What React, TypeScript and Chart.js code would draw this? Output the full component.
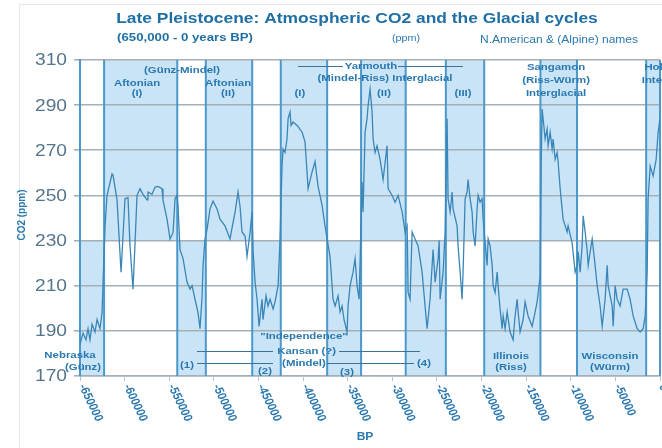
import React, { useEffect, useRef } from 'react';
import { Chart, registerables } from 'chart.js';

Chart.register(...registerables);

const FONT = "'Liberation Sans', Arial, Helvetica, sans-serif";

// ---- data (years BP as negative numbers, CO2 in ppm) ----
const years = [
  -650000, -646600, -643300, -641000, -638800, -636500, -633200, -630900, -627600, -625300,
  -622000, -619700, -614100, -613000, -608500, -604000, -601800, -599600, -596200, -594000,
  -590600, -588300, -586100, -582700, -579400, -574900, -573800, -569300, -565900, -562600,
  -558100, -557000, -552500, -549100, -545700, -543500, -541300, -540100, -537900, -534500,
  -530100, -526700, -524400, -521100, -517700, -515500, -513200, -512100, -509900, -507600,
  -504300, -500900, -496400, -493100, -487500, -481900, -476200, -472900, -470600, -468400,
  -465000, -462800, -459400, -457200, -456100, -453800, -451600, -449300, -446000, -444900,
  -441500, -439300, -437000, -433600, -431400, -428000, -425800, -423600, -422400, -420200,
  -418000, -416800, -414600, -413500, -411200, -406700, -401100, -397800, -394400, -389900,
  -386600, -383200, -378700, -375400, -373100, -369800, -366400, -364100, -360800, -358500,
  -356300, -354100, -350700, -349600, -347300, -344000, -341700, -339500, -337200, -335000,
  -333900, -332800, -330500, -328300, -327200, -324900, -322700, -321500, -319300, -317100,
  -313700, -310300, -305900, -304700, -300200, -296900, -293500, -289000, -285700, -283400,
  -282300, -280100, -277800, -274500, -271100, -266600, -263300, -261000, -257700, -254300,
  -252000, -248700, -247500, -246400, -243100, -240800, -238600, -237500, -235200, -233000,
  -231900, -227400, -226300, -224000, -221800, -220700, -218400, -216200, -215100, -212800,
  -210600, -209400, -207200, -205000, -203800, -201600, -199400, -198200, -196000, -193800,
  -192600, -190400, -188100, -187000, -184800, -182500, -181400, -179200, -176900, -175800,
  -173600, -171300, -168000, -164600, -162400, -160100, -159000, -156800, -153400, -151200,
  -147800, -143300, -139900, -137700, -134300, -133200, -132100, -131000, -128700, -126500,
  -125400, -123100, -120900, -119800, -117500, -115300, -114200, -111900, -108600, -104100,
  -103000, -98500, -95100, -92900, -91700, -89500, -87300, -86100, -83900, -81700,
  -80500, -78300, -76000, -72700, -70400, -67100, -64800, -61500, -59200, -58100,
  -53600, -52500, -50300, -48000, -44700, -41300, -36800, -33500, -30100, -25600,
  -22200, -18900, -16600, -14400, -13300, -11000, -7700, -4300, -2100, 0,
];

const co2 = [
  184, 189, 186, 191, 186, 193, 189.5, 195, 191, 198,
  236, 250, 259.5, 259, 248, 216, 232, 248.5, 249, 228,
  208.5, 229, 250, 253, 250.5, 248, 251.5, 250.5, 253.7, 254,
  253, 248, 239.5, 230.7, 233.6, 248.5, 250, 245, 226, 222,
  211.6, 208.5, 210, 204, 198, 191, 205, 219, 230.7, 235,
  244, 247.5, 244, 239.5, 236.5, 230.7, 242.7, 251.5, 245, 233.8,
  232, 223, 233.8, 242.6, 226, 211.6, 204, 192, 204, 195,
  205.5, 201, 204, 199.7, 202.8, 210, 230.7, 263, 270.6, 269,
  275, 284, 287, 281, 282.5, 281, 278, 273.7, 253, 260.4,
  265, 254, 245.6, 236.5, 230.7, 223, 204, 201, 205.5, 198.4,
  201, 195, 189.5, 201, 210, 216, 222, 210, 204, 238,
  256, 242.7, 278, 284, 289.6, 297, 287, 275, 269, 272,
  266, 257, 272, 253, 250, 247, 250, 242.7, 233.8, 236.5,
  207, 204, 233.8, 230.7, 227.6, 216, 201, 191, 204, 226,
  211.6, 222, 230, 204, 216, 233.8, 284, 248.5, 242.7, 251.5,
  244, 236.5, 227.6, 216, 204, 216, 248.5, 251.5, 257, 248.5,
  242.7, 233.8, 227.6, 244, 250, 247, 248.5, 239.5, 229, 219,
  230.7, 227.6, 219, 210, 207, 216, 210, 199.7, 191, 196.6,
  191, 198.4, 189.5, 186, 196.6, 204, 198.4, 189.5, 195, 202.8,
  196.6, 192, 198.4, 202.8, 214.4, 263, 288.3, 284, 275, 279.4,
  272, 278, 270.6, 275, 266, 269, 265, 253, 239.5, 233.8,
  236.5, 229, 216, 219, 225, 216, 227.6, 241, 233.8, 226,
  219, 225, 230.7, 219, 210, 201, 192, 204, 219, 210,
  201, 192, 210, 204, 201, 208.5, 208.5, 204, 196.6, 191,
  189.5, 191, 196.6, 216, 248.5, 263, 258.6, 266, 278, 284,
];

// glacial / interglacial stages (boundaries in years BP)
const stageBounds = [
  -650000, -623000, -541000, -509000, -457000, -425000, -373000, -335000,
  -285000, -240000, -197000, -134000, -93000, -15500, 0,
];
const stageKinds = [
  'glacial', 'interglacial', 'glacial', 'interglacial', 'glacial', 'interglacial', 'glacial',
  'interglacial', 'glacial', 'interglacial', 'glacial', 'interglacial', 'glacial', 'interglacial',
];
const glacialBand = [170, 230];
const interglacialBand = [230, 310];

const xMin = -650000;
const xMax = 0;
const xStep = 50000;
const yMin = 170;
const yMax = 310;
const yStep = 20;

const titleText = 'Late Pleistocene: Atmospheric CO2 and the Glacial cycles';
const subtitleText = '(650,000 - 0 years BP)';
const unitText = '(ppm)';
const namesText = 'N.American & (Alpine) names';
const yTitle = 'CO2 (ppm)';
const xTitle = 'BP';

// annotation labels anchored in data space: [text, year, ppm, align]
const stageLabels: [string, number, number, string][] = [
  ['(Günz-Mindel)', -535700, 305.6, 'center'],
  ['Aftonian', -586100, 299.8, 'center'],
  ['(I)', -586100, 295.0, 'center'],
  ['Aftonian', -484100, 299.8, 'center'],
  ['(II)', -484100, 295.0, 'center'],
  ['(I)', -403500, 295.0, 'center'],
  ['Yarmouth', -323900, 307.3, 'center'],
  ['(Mindel-Riss) Interglacial', -308200, 302.0, 'center'],
  ['(II)', -309300, 295.0, 'center'],
  ['(III)', -220800, 295.0, 'center'],
  ['Sangamon', -116500, 306.9, 'center'],
  ['(Riss-Würm)', -116500, 301.1, 'center'],
  ['Interglacial', -116500, 295.4, 'center'],
  ['Holocene', -17500, 306.9, 'left'],
  ['Interglacial', -20500, 301.1, 'left'],
  ['Nebraska', -661200, 179.3, 'center'],
  ['(Günz)', -646600, 173.6, 'center'],
  ['"Independence"', -399000, 187.7, 'center'],
  ['Kansan (?)', -396000, 181.1, 'center'],
  ['(Mindel)', -399000, 175.8, 'center'],
  ['(1)', -530100, 174.9, 'center'],
  ['(2)', -442700, 172.2, 'center'],
  ['(3)', -350800, 171.8, 'center'],
  ['(4)', -264500, 175.4, 'center'],
  ['Illinois', -167000, 178.9, 'center'],
  ['(Riss)', -167000, 173.6, 'center'],
  ['Wisconsin', -56000, 178.9, 'center'],
  ['(Würm)', -56000, 173.6, 'center'],
];

// connector lines: [yearFrom, yearTo, ppm]
const connectors: [number, number, number][] = [
  [-405700, -355300, 307.3],
  [-293600, -220800, 307.3],
  [-518900, -433700, 181.1],
  [-359700, -269000, 181.1],
  [-518900, -433700, 175.8],
  [-373200, -275700, 175.8],
];

const TEXT_BLUE = '#2a78b0';
const SX = 1.2; // horizontal stretch of the lettering in the reference

function drawText(ctx: CanvasRenderingContext2D, s: string, x: number, y: number, align: string) {
  ctx.save();
  ctx.translate(x, y);
  ctx.scale(SX, 1);
  ctx.textAlign = align as CanvasTextAlign;
  ctx.fillText(s, 0, 0);
  ctx.restore();
}

const decorPlugin = {
  id: 'decor',
  beforeDraw(chart: any) {
    const { ctx, scales } = chart;
    const x = scales.x;
    const y = scales.y;
    ctx.save();
    ctx.fillStyle = '#ffffff';
    ctx.fillRect(0, 0, chart.width, chart.height);
    ctx.strokeStyle = '#e4e8eb';
    ctx.lineWidth = 1;
    ctx.beginPath();
    ctx.moveTo(19.5, chart.height);
    ctx.lineTo(19.5, 4.5);
    ctx.lineTo(chart.width, 4.5);
    ctx.stroke();
    ctx.fillStyle = '#c9e4f6';
    for (let i = 0; i < stageKinds.length; i++) {
      const x0 = x.getPixelForValue(stageBounds[i]);
      const x1 = x.getPixelForValue(stageBounds[i + 1]);
      const band = stageKinds[i] === 'glacial' ? glacialBand : interglacialBand;
      const yt = y.getPixelForValue(band[1]);
      const yb = y.getPixelForValue(band[0]);
      ctx.fillRect(x0, yt, x1 - x0, yb - yt);
    }
    ctx.restore();
  },
  beforeDatasetsDraw(chart: any) {
    const { ctx, scales, chartArea } = chart;
    const x = scales.x;
    ctx.save();
    ctx.strokeStyle = '#4a98cc';
    ctx.lineWidth = 2;
    for (let i = 0; i < stageBounds.length; i++) {
      const px = x.getPixelForValue(stageBounds[i]);
      ctx.beginPath();
      ctx.moveTo(px, chartArea.top);
      ctx.lineTo(px, chartArea.bottom);
      ctx.stroke();
    }
    ctx.restore();
  },
  afterDraw(chart: any) {
    const { ctx, scales, chartArea } = chart;
    const x = scales.x;
    const y = scales.y;
    ctx.save();
    ctx.textBaseline = 'middle';

    // titles
    ctx.fillStyle = '#1f6fa5';
    ctx.font = `bold 14.5px ${FONT}`;
    drawText(ctx, titleText, 357, 19, 'center');
    ctx.font = `bold 11px ${FONT}`;
    drawText(ctx, subtitleText, 185, 38, 'center');
    ctx.fillStyle = TEXT_BLUE;
    ctx.font = `9px ${FONT}`;
    drawText(ctx, unitText, 406, 39, 'center');
    ctx.font = `10px ${FONT}`;
    drawText(ctx, namesText, 559, 40, 'center');

    // axis titles
    ctx.font = `bold 10px ${FONT}`;
    drawText(ctx, xTitle, 365, 437, 'center');
    ctx.save();
    ctx.translate(22, 215);
    ctx.rotate(-Math.PI / 2);
    ctx.textAlign = 'center';
    ctx.fillText(yTitle, 0, 0);
    ctx.restore();

    // y tick labels
    ctx.fillStyle = '#55758c';
    ctx.font = `16px ${FONT}`;
    for (const t of y.ticks) {
      drawText(ctx, String(t.value), chartArea.left - 13, y.getPixelForValue(t.value) + 1, 'right');
    }

    // rotated x tick labels
    ctx.fillStyle = TEXT_BLUE;
    ctx.font = `bold 10.5px ${FONT}`;
    for (const t of x.ticks) {
      const px = x.getPixelForValue(t.value);
      ctx.save();
      ctx.translate(px + 2, chartArea.bottom + 9);
      ctx.scale(SX, 1);
      ctx.rotate((68 * Math.PI) / 180);
      ctx.textAlign = 'left';
      ctx.fillText(String(t.value), 0, 0);
      ctx.restore();
    }

    // connector lines
    ctx.strokeStyle = '#3f7299';
    ctx.lineWidth = 1;
    for (const [a, b, v] of connectors) {
      const py = Math.round(y.getPixelForValue(v)) + 0.5;
      ctx.beginPath();
      ctx.moveTo(x.getPixelForValue(a), py);
      ctx.lineTo(x.getPixelForValue(b), py);
      ctx.stroke();
    }

    // stage labels
    ctx.font = `bold 9.5px ${FONT}`;
    for (const [s, a, v, al] of stageLabels) {
      drawText(ctx, s, x.getPixelForValue(a), y.getPixelForValue(v), al);
    }
    ctx.restore();
  },
};

export default function App() {
  const ref = useRef<HTMLCanvasElement | null>(null);
  useEffect(() => {
    if (!ref.current) return;
    const chart = new Chart(ref.current, {
      type: 'line',
      data: {
        datasets: [
          {
            data: years.map((yr, i) => ({ x: yr, y: co2[i] })),
            borderColor: '#3a86b8',
            borderWidth: 1.3,
            pointRadius: 0,
            tension: 0,
            fill: false,
          },
        ],
      },
      options: {
        animation: false,
        responsive: false,
        events: [],
        layout: { padding: { top: 60, right: 2, left: 0, bottom: 0 } },
        plugins: { legend: { display: false }, tooltip: { enabled: false }, title: { display: false } },
        scales: {
          x: {
            type: 'linear',
            min: xMin,
            max: xMax,
            ticks: { display: false, stepSize: xStep },
            grid: { drawOnChartArea: false, drawTicks: true, tickLength: 5, color: '#b7c4cd' },
            border: { color: '#b7c4cd', width: 1 },
            afterFit: (s: any) => {
              s.height = 72;
            },
          },
          y: {
            min: yMin,
            max: yMax,
            ticks: { display: false, stepSize: yStep },
            grid: { color: '#a6afb6', lineWidth: 1.6, tickLength: 6 },
            border: { color: '#4f9bd0', width: 2 },
            afterFit: (s: any) => {
              s.width = 80;
            },
          },
        },
      },
      plugins: [decorPlugin],
    } as any);
    return () => chart.destroy();
  }, []);
  return (
    <div style={{ position: 'fixed', left: 0, top: 0, width: 662, height: 448 }}>
      <canvas ref={ref} width={662} height={448} style={{ display: 'block' }} />
    </div>
  );
}
